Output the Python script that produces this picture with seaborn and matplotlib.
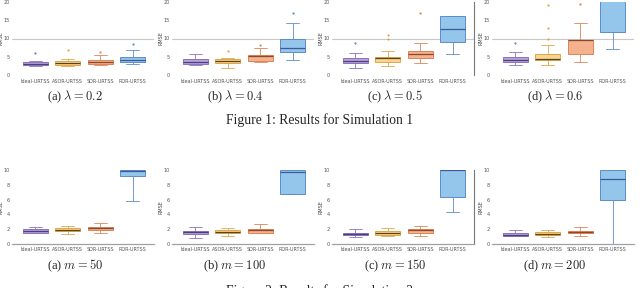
import numpy as np
import pandas as pd
import matplotlib.pyplot as plt
import seaborn as sns

# method names on the x axis
methods = ["Ideal-URTSS", "ASOR-URTSS", "SOR-URTSS", "ROR-URTSS"]

# Simulation 1: RMSE samples per method (Ideal, ASOR, SOR, ROR)
lam_02 = [
    [2.5, 2.6, 2.7, 2.9, 3.0, 3.2, 3.5, 3.7, 4.0, 6.0],
    [2.5, 2.7, 2.8, 3.0, 3.2, 3.4, 3.7, 3.9, 4.4, 6.9],
    [2.8, 2.9, 3.0, 3.2, 3.4, 3.6, 3.8, 4.0, 4.3, 5.5, 6.4],
    [3.0, 3.3, 3.5, 3.7, 3.9, 4.1, 4.5, 4.9, 5.3, 6.9, 8.5],
]
lam_04 = [
    [2.9, 3.0, 3.1, 3.4, 3.7, 4.0, 4.4, 4.5, 5.9],
    [2.1, 2.8, 3.3, 3.6, 3.8, 4.1, 4.4, 4.6, 6.5],
    [3.6, 3.9, 4.0, 4.6, 5.3, 5.4, 5.5, 7.3, 8.2],
    [4.2, 5.5, 6.3, 6.8, 7.4, 8.5, 10.0, 14.1, 16.9],
]
lam_05 = [
    [1.9, 2.8, 3.3, 3.6, 3.9, 4.2, 4.6, 6.0, 8.9],
    [2.6, 3.0, 3.3, 3.5, 3.8, 4.2, 4.6, 4.7, 4.8, 4.9, 6.5, 9.8, 10.9],
    [3.3, 4.2, 4.8, 5.2, 5.7, 6.2, 6.5, 8.9, 16.9],
    [5.7, 8.0, 9.0, 11.0, 12.5, 14.0, 16.0, 16.0, 16.0],
]
lam_06 = [
    [2.8, 3.2, 3.5, 3.9, 4.2, 4.6, 4.9, 6.2, 8.7],
    [2.7, 3.4, 3.9, 4.1, 4.2, 4.2, 4.3, 4.4, 4.5, 4.5, 4.6, 5.0, 5.5, 5.8,
     5.8, 5.8, 8.1, 9.8, 12.9, 19.2],
    [3.5, 4.8, 5.7, 8.0, 9.5, 9.6, 9.6, 14.2, 19.5],
    [7.1, 10.5, 11.9, 16.0, 21.0, 23.0, 25.0, 26.0, 27.0],
]

# Simulation 2
m_50 = [
    [1.5, 1.52, 1.53, 1.7, 1.8, 1.9, 2.0, 2.1, 2.25],
    [1.35, 1.6, 1.7, 1.8, 1.9, 2.0, 2.1, 2.2, 2.4],
    [1.5, 1.7, 1.85, 2.0, 2.1, 2.2, 2.34, 2.6, 2.9],
    [5.85, 8.0, 9.15, 9.6, 9.9, 10.0, 10.0, 10.0, 10.0],
]
m_100 = [
    [0.77, 1.1, 1.3, 1.45, 1.58, 1.7, 1.8, 2.0, 2.35],
    [1.08, 1.3, 1.5, 1.6, 1.67, 1.75, 1.85, 1.95, 2.1],
    [1.45, 1.5, 1.53, 1.75, 1.9, 2.0, 2.07, 2.4, 2.75],
    [6.7, 6.72, 6.75, 8.5, 9.7, 9.9, 10.0, 10.0, 10.0],
]
m_150 = [
    [1.0, 1.1, 1.17, 1.28, 1.35, 1.45, 1.53, 1.7, 2.0],
    [1.08, 1.2, 1.26, 1.4, 1.5, 1.65, 1.76, 1.9, 2.1],
    [1.13, 1.4, 1.53, 1.7, 1.85, 1.95, 2.07, 2.3, 2.5],
    [4.3, 6.0, 6.4, 9.0, 10.0, 10.0, 10.0, 10.0, 10.0],
]
m_200 = [
    [1.05, 1.1, 1.13, 1.2, 1.26, 1.35, 1.44, 1.6, 1.9],
    [1.0, 1.1, 1.17, 1.3, 1.35, 1.5, 1.62, 1.75, 1.9],
    [1.08, 1.3, 1.44, 1.55, 1.62, 1.7, 1.8, 2.0, 2.35],
    [0.0, 4.5, 5.95, 7.5, 8.74, 9.5, 10.0, 10.0, 10.0],
]

top_panels = [lam_02, lam_04, lam_05, lam_06]
bottom_panels = [m_50, m_100, m_150, m_200]
top_captions = [r"(a) $\lambda = 0.2$", r"(b) $\lambda = 0.4$",
                r"(c) $\lambda = 0.5$", r"(d) $\lambda = 0.6$"]
bottom_captions = [r"(a) $m = 50$", r"(b) $m = 100$",
                   r"(c) $m = 150$", r"(d) $m = 200$"]

fill_colors = ["#b9a2da", "#fbd58e", "#f5b08e", "#94c6ec"]
edge_colors = ["#8a74b8", "#e0a64a", "#de8458", "#5d8cc8"]
median_colors = ["#4b3f80", "#5a4420", "#8a4a28", "#3a5a9a"]

sns.set_style("white")
plt.rcParams["mathtext.fontset"] = "cm"

fig = plt.figure(figsize=(6.4, 2.88), dpi=100)
W, H = 640.0, 288.0


def draw(ax, groups, ymax, yticks, whis):
    df = pd.DataFrame({
        "method": [m for m, g in zip(methods, groups) for _ in g],
        "RMSE": [v for g in groups for v in g],
    })
    sns.boxplot(data=df, x="method", y="RMSE", hue="method", order=methods,
                hue_order=methods, palette=fill_colors, saturation=1,
                legend=False, width=0.78, linewidth=0.7, whis=whis, ax=ax,
                flierprops=dict(marker="o", markersize=1.6, markeredgewidth=0))
    for cont, ec, mc in zip(ax.containers, edge_colors, median_colors):
        for b in cont.boxes:
            b.set_edgecolor(ec)
            b.set_linewidth(0.7)
        for ln in cont.medians:
            ln.set_color(mc)
            ln.set_linewidth(0.9)
        for ln in list(cont.whiskers) + list(cont.caps):
            ln.set_color(ec)
            ln.set_linewidth(0.6)
        for ln in cont.fliers:
            ln.set_markerfacecolor(ec)
    ax.set_xlim(-0.72, 3.66)
    ax.set_ylim(0, ymax)
    ax.set_yticks(yticks)
    ax.set_xlabel("")
    ax.set_ylabel("RMSE", fontsize=3.5, color="#444")
    ax.yaxis.set_label_coords(-0.058, 0.5)
    ax.tick_params(axis="both", length=0, labelsize=3.5, colors="#555", pad=1.5)
    ax.tick_params(axis="x", pad=2.5)
    for s in ax.spines.values():
        s.set_visible(False)


for i, (groups, cap) in enumerate(zip(top_panels, top_captions)):
    left = 12 + 160 * i
    ax = fig.add_axes([left / W, (H - 75.3) / H, 142 / W, 73.6 / H])
    draw(ax, groups, 20, [0, 5, 10, 15, 20], 1.5)
    ax.axhline(10, color="#c8c8c8", linewidth=0.8, zorder=0)
    if i == 2:
        ax.spines["right"].set_visible(True)
        ax.spines["right"].set_color("#777")
        ax.spines["right"].set_linewidth(0.8)
    fig.text((75 + 160 * i) / W, 1 - 97 / H, cap, ha="center", va="center",
             fontsize=9, family="Liberation Serif")

for i, (groups, cap) in enumerate(zip(bottom_panels, bottom_captions)):
    left = 12 + 160 * i
    ax = fig.add_axes([left / W, (H - 244) / H, 142 / W, 74 / H])
    draw(ax, groups, 10, [0, 2, 4, 6, 8, 10], (0, 100))
    ax.spines["bottom"].set_visible(True)
    ax.spines["bottom"].set_color("#a0a0a0")
    ax.spines["bottom"].set_linewidth(0.9)
    if i == 2:
        ax.spines["right"].set_visible(True)
        ax.spines["right"].set_color("#777")
        ax.spines["right"].set_linewidth(0.8)
    fig.text((75 + 160 * i) / W, 1 - 266 / H, cap, ha="center", va="center",
             fontsize=9, family="Liberation Serif")

fig.text(0.5, 1 - 120 / H, "Figure 1: Results for Simulation 1", ha="center",
         va="center", fontsize=9.8, family="Liberation Serif")
fig.text(0.5, 1 - 291 / H, "Figure 2: Results for Simulation 2", ha="center",
         va="center", fontsize=9.8, family="Liberation Serif")

fig.savefig("out.png", dpi=100)
